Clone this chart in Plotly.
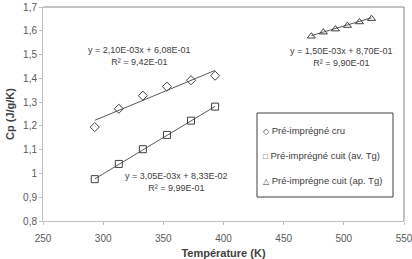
import plotly.graph_objects as go

# Data
temp_low = [293, 313, 333, 353, 373, 393]
cp_cru = [1.195, 1.272, 1.327, 1.365, 1.392, 1.411]
cp_cuit_av = [0.976, 1.040, 1.102, 1.162, 1.222, 1.281]
temp_high = [473, 483, 493, 503, 513, 523]
cp_cuit_ap = [1.577, 1.594, 1.607, 1.622, 1.637, 1.651]

# Trendline coefficients (as printed on the chart)
fit_cru = (2.10e-03, 6.08e-01)
fit_av = (3.05e-03, 8.33e-02)
fit_ap = (1.50e-03, 8.70e-01)

names = ["Pré-imprégné cru", "Pré-imprégné cuit (av. Tg)", "Pré-imprégne cuit (ap. Tg)"]
legend_symbols = ["◇", "□", "△"]
eq_texts = [
    "y = 2,10E-03x + 6,08E-01<br>R² = 9,42E-01",
    "y = 3,05E-03x + 8,33E-02<br>R² = 9,99E-01",
    "y = 1,50E-03x + 8,70E-01<br>R² = 9,90E-01",
]

line_col = "#595959"
mk_col = "#404040"
font_fam = "Liberation Sans"

fig = go.Figure()

def trend(xs, coef):
    xe = [xs[0], xs[-1]]
    return xe, [coef[0] * v + coef[1] for v in xe]

for xs, coef in [(temp_low, fit_cru), (temp_low, fit_av), (temp_high, fit_ap)]:
    tx, ty = trend(xs, coef)
    fig.add_trace(go.Scatter(x=tx, y=ty, mode="lines", showlegend=False,
                             line=dict(color=line_col, width=1), hoverinfo="skip"))

series = [(temp_low, cp_cru, "diamond-open", 7), (temp_low, cp_cuit_av, "square-open", 7),
          (temp_high, cp_cuit_ap, "triangle-up-open", 7)]
for i, (xs, ys, sym, sz) in enumerate(series):
    fig.add_trace(go.Scatter(x=xs, y=ys, mode="markers", name=names[i], showlegend=False,
                             marker=dict(symbol=sym, size=sz, color=mk_col,
                                         line=dict(color=mk_col, width=1))))

ann_pos = [(330, 1.495), (361, 0.965), (498, 1.49)]
for (ax, ay), t in zip(ann_pos, eq_texts):
    fig.add_annotation(x=ax, y=ay, text=t, showarrow=False, align="center",
                       font=dict(family=font_fam, size=9, color="#404040"))

# plot area top/right border
fig.add_shape(type="line", xref="paper", yref="paper", x0=0, x1=1, y0=1, y1=1,
              line=dict(color="#868686", width=1))
fig.add_shape(type="line", xref="paper", yref="paper", x0=1, x1=1, y0=0, y1=1,
              line=dict(color="#868686", width=1))

# legend box (paper coords: plot area spans x 43..404 px, y 7..221 px)
lx0, lx1 = (257 - 43) / 361, (393 - 43) / 361
ly1, ly0 = (221 - 113) / 214, (221 - 197) / 214
fig.add_shape(type="rect", xref="paper", yref="paper", x0=lx0, x1=lx1, y0=ly0, y1=ly1,
              line=dict(color="#404040", width=1), fillcolor="white", layer="above")
for k, (s, n) in enumerate(zip(legend_symbols, names)):
    yk = (221 - (130 + 25 * k)) / 214
    fig.add_annotation(xref="paper", yref="paper", x=(261 - 43) / 361, y=yk,
                       xanchor="left", yanchor="middle", showarrow=False,
                       text="<span style='font-size:8px'>" + s + "</span> " + n,
                       font=dict(family=font_fam, size=9.5, color="#404040"))

fig.update_layout(
    width=412, height=259,
    margin=dict(l=43, r=8, t=7, b=38, autoexpand=False),
    paper_bgcolor="white", plot_bgcolor="white",
    separators=", ",
    font=dict(family=font_fam, size=10, color="#595959"),
    showlegend=False,
    xaxis=dict(range=[250, 550], dtick=50, showgrid=False, zeroline=False,
               showline=True, linecolor="#bfbfbf", linewidth=1,
               ticks="outside", ticklen=3, tickcolor="#bfbfbf",
               ticklabelstandoff=5, ticklabeloverflow="allow",
               tickfont=dict(size=10, color="#595959"),
               title=dict(text="<b>Température (K)</b>", standoff=6,
                          font=dict(size=11, color="#404040"))),
    yaxis=dict(range=[0.8, 1.7], dtick=0.1, showgrid=False, zeroline=False,
               showline=True, linecolor="#bfbfbf", linewidth=1,
               ticks="outside", ticklen=3, tickcolor="#bfbfbf",
               ticklabeloverflow="allow",
               tickfont=dict(size=10, color="#595959"),
               title=dict(text="<b>Cp (J/g/K)</b>", standoff=6,
                          font=dict(size=11, color="#404040"))),
)

fig.write_html("out.html")
